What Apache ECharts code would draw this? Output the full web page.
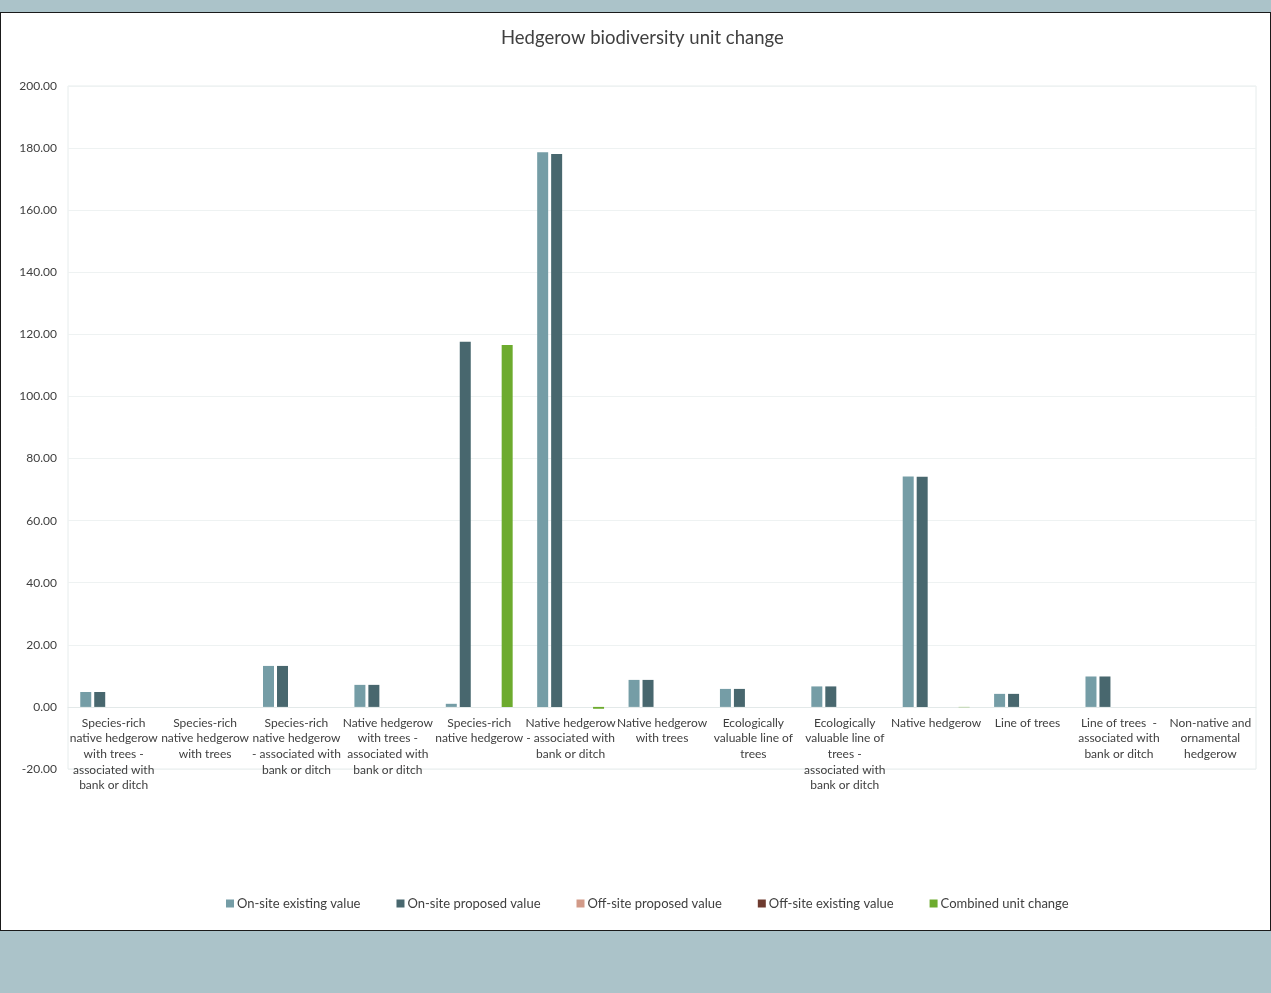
<!DOCTYPE html>
<html>
<head>
<meta charset="utf-8">
<script src="https://cdn.jsdelivr.net/npm/echarts@6/dist/echarts.min.js"></script>
<style>
html,body{margin:0;padding:0;background:#abc3c9;width:1271px;height:993px;overflow:hidden;}
#panel{position:absolute;left:0;top:12px;width:1269px;height:917px;background:#fff;border:1px solid #1a1a1a;}
#chart{width:1269px;height:917px;}
</style>
</head>
<body>
<div id="panel"><div id="chart"></div></div>
<script>
const categories = [
  "Species-rich native hedgerow with trees - associated with bank or ditch",
  "Species-rich native hedgerow with trees",
  "Species-rich native hedgerow - associated with bank or ditch",
  "Native hedgerow with trees - associated with bank or ditch",
  "Species-rich native hedgerow",
  "Native hedgerow - associated with bank or ditch",
  "Native hedgerow with trees",
  "Ecologically valuable line of trees",
  "Ecologically valuable line of trees - associated with bank or ditch",
  "Native hedgerow",
  "Line of trees",
  "Line of trees  - associated with bank or ditch",
  "Non-native and ornamental hedgerow"
];
const tickLabels = [
  "Species-rich\nnative hedgerow\nwith trees -\nassociated with\nbank or ditch",
  "Species-rich\nnative hedgerow\nwith trees",
  "Species-rich\nnative hedgerow\n- associated with\nbank or ditch",
  "Native hedgerow\nwith trees -\nassociated with\nbank or ditch",
  "Species-rich\nnative hedgerow",
  "Native hedgerow\n- associated with\nbank or ditch",
  "Native hedgerow\nwith trees",
  "Ecologically\nvaluable line of\ntrees",
  "Ecologically\nvaluable line of\ntrees -\nassociated with\nbank or ditch",
  "Native hedgerow",
  "Line of trees",
  "Line of trees  -\nassociated with\nbank or ditch",
  "Non-native and\nornamental\nhedgerow"
];
const onSiteExisting = [4.8, 0, 13.2, 7.1, 1.0, 178.7, 8.7, 5.8, 6.6, 74.2, 4.2, 9.8, 0];
const onSiteProposed = [4.8, 0, 13.2, 7.1, 117.6, 178.1, 8.7, 5.8, 6.6, 74.1, 4.2, 9.8, 0];
const offSiteProposed = [0, 0, 0, 0, 0, 0, 0, 0, 0, 0, 0, 0, 0];
const offSiteExisting = [0, 0, 0, 0, 0, 0, 0, 0, 0, 0, 0, 0, 0];
const combinedChange = [0, 0, 0, 0, 116.6, -0.6, 0, 0, 0, -0.1, 0, 0, 0];
const seriesNames = ["On-site existing value", "On-site proposed value", "Off-site proposed value", "Off-site existing value", "Combined unit change"];
const yTicks = { min: -20, max: 200, interval: 20 };

const colors = ["#759da6", "#48676e", "#d29a88", "#6e3b2f", "#6dab2e"];
const FONT = "Lato, 'Open Sans', sans-serif";
const seriesData = [onSiteExisting, onSiteProposed, offSiteProposed, offSiteExisting, combinedChange];

const GRID_TOP = 73, GRID_BOTTOM = 161, H = 917;
const plotH = H - GRID_TOP - GRID_BOTTOM;
const zeroOffset = plotH * (0 - yTicks.min) / (yTicks.max - yTicks.min);

const chart = echarts.init(document.getElementById('chart'), null, {renderer: 'canvas'});
chart.setOption({
  animation: false,
  color: colors,
  title: {
    text: "Hedgerow biodiversity unit change",
    left: 495, top: 11,
    textStyle: {fontFamily: FONT, fontSize: 18.5, fontWeight: 'normal', color: '#404040'}
  },
  legend: {
    bottom: 15, left: 220,
    itemWidth: 8, itemHeight: 8, itemGap: 36,
    icon: 'rect',
    textStyle: {fontFamily: FONT, fontSize: 13, color: '#404040', padding: [0,0,0,-2]},
    data: seriesNames
  },
  grid: {
    left: 67, right: 14, top: GRID_TOP, bottom: GRID_BOTTOM,
    show: true, borderColor: '#e6ecec', borderWidth: 1, containLabel: false
  },
  xAxis: {
    type: 'category',
    data: categories,
    offset: -zeroOffset,
    axisLine: {show: true, onZero: false, lineStyle: {color: '#e3e9e9'}},
    axisTick: {show: false},
    axisLabel: {
      interval: 0,
      formatter: (v, i) => tickLabels[i],
      fontFamily: FONT, fontSize: 12, color: '#404040', lineHeight: 15.7, margin: 8
    }
  },
  yAxis: {
    type: 'value',
    min: yTicks.min, max: yTicks.max, interval: yTicks.interval,
    axisLine: {show: false},
    axisTick: {show: false},
    splitLine: {lineStyle: {color: '#eef2f2'}},
    axisLabel: {
      formatter: v => v.toFixed(2),
      fontFamily: FONT, fontSize: 12, color: '#404040', margin: 11
    }
  },
  series: seriesNames.map((n, k) => ({
    name: n, type: 'bar', data: seriesData[k],
    barWidth: 11, barGap: '27%',
    itemStyle: {color: colors[k]}
  }))
});
</script>
</body>
</html>
